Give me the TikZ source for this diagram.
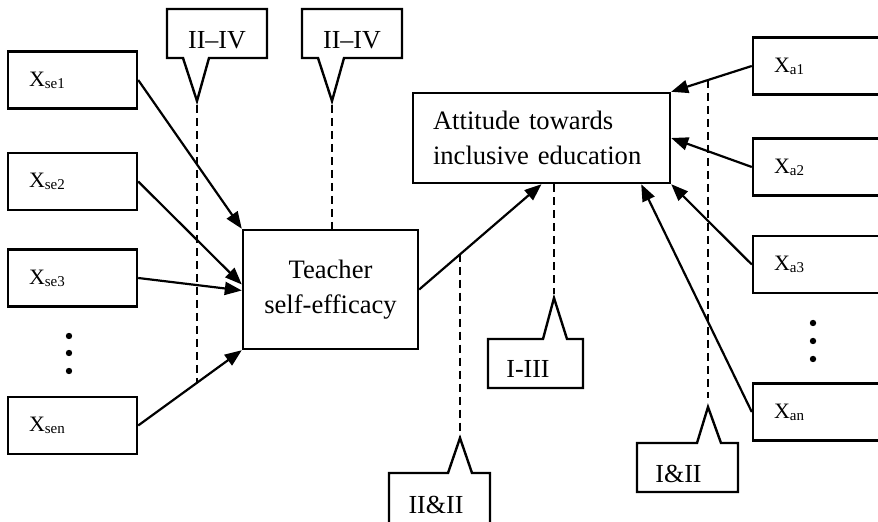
\documentclass[tikz,border=0pt]{standalone}
\usepackage{fontspec}
\setmainfont{Liberation Serif}
\usetikzlibrary{arrows.meta}

\newcommand{\lowidx}[1]{\raisebox{-1pt}{\fontsize{7.5}{8}\selectfont #1}}

\tikzset{
  varbox/.style={draw, line width=1.2pt, minimum height=28.5pt, inner xsep=10.5pt,
    align=left, font=\fontsize{11}{12}\selectfont},
  leftbox/.style={varbox, text width=43.5pt},
  rightbox/.style={varbox, text width=49pt},
  mainbox/.style={draw, line width=1.2pt, font=\fontsize{13.3}{17.5}\selectfont},
  arr/.style={line width=1.1pt, -{Triangle[length=8.5pt,width=6.5pt]}},
  guide/.style={line width=1.1pt, dash pattern=on 4pt off 2.5pt},
  tag/.style={line width=1.2pt, line join=miter},
  tagtext/.style={inner sep=0pt, font=\fontsize{13}{15}\selectfont}
}

\begin{document}
\begin{tikzpicture}[x=0.5pt, y=-0.5pt]
    \clip (0,0) rectangle (878,522);

    % indicators of self-efficacy
    \node (se1) [leftbox] at (72.5,80) {X\lowidx{se1}};
    \node (se2) [leftbox] at (72.5,181.5) {X\lowidx{se2}};
    \node (se3) [leftbox] at (72.5,278) {X\lowidx{se3}};
    \node (sen) [leftbox] at (72.5,425.5) {X\lowidx{sen}};
    \foreach \y in {336,353,371}
      \fill (69,\y) circle (1.6pt);

    % latent variables
    \node (tse) [mainbox, minimum width=87.5pt, minimum height=59.5pt, align=center]
      at (330.5,289.5) {Teacher\\self-efficacy};
    \node (att) [mainbox, minimum width=128.5pt, minimum height=45pt, inner xsep=10pt,
      text width=108.5pt, align=left] at (541.5,138) {Attitude towards\\inclusive education};

    % indicators of attitude
    \node (a1) [rightbox] at (823,66) {X\lowidx{a1}};
    \node (a2) [rightbox] at (823,167) {X\lowidx{a2}};
    \node (a3) [rightbox] at (823,264.5) {X\lowidx{a3}};
    \node (an) [rightbox] at (823,412) {X\lowidx{an}};
    \foreach \y in {323,341,359}
      \fill (813,\y) circle (1.6pt);

    % paths
    \draw [arr] (se1.east) -- (tse.north west);
    \draw [arr] (se2.east) -- ([yshift=2.5pt]tse.west);
    \draw [arr] (se3.east) -- ([yshift=-0.5pt]tse.west);
    \draw [arr] (sen.east) -- coordinate[pos=0.566] (xn) (tse.south west);
    \draw [arr] (tse.east) -- coordinate[pos=0.34] (xt) (att.south);
    \draw [arr] (a1.west) -- coordinate[pos=0.54] (xa) (att.north east);
    \draw [arr] (a2.west) -- (att.east);
    \draw [arr] (a3.west) -- (att.south east);
    \draw [arr] (an.west) -- ([xshift=-15pt]att.south east);

    % callouts
    \draw [tag] (167,9) -- (267,9) -- (267,58) -- (209,58) -- (197,101) -- (183,58) -- (167,58) -- cycle;
    \coordinate (t1) at (197,101);
    \node (l1) [tagtext] at (217,40) {II–IV};

    \draw [tag] (302,9) -- (402,9) -- (402,58) -- (344,58) -- (332,101) -- (318,58) -- (302,58) -- cycle;
    \coordinate (t2) at (332,101);
    \node (l2) [tagtext] at (352,40) {II–IV};

    \draw [tag] (488,339) -- (543,339) -- (554,298) -- (567,339) -- (583,339) -- (583,388) -- (488,388) -- cycle;
    \coordinate (t3) at (554,298);
    \node (l3) [tagtext] at (528,369) {I-III};

    \draw [tag] (389,473) -- (448,473) -- (460,438) -- (472,473) -- (490,473) -- (490,540) -- (389,540) -- cycle;
    \coordinate (t4) at (460,438);
    \node (l4) [tagtext] at (436,505) {II\&II};

    \draw [tag] (637,443) -- (697,443) -- (708,407) -- (721,443) -- (738,443) -- (738,492) -- (637,492) -- cycle;
    \coordinate (t5) at (708,407);
    \node (l5) [tagtext] at (678.5,473.5) {I\&II};

    % dashed guides
    \draw [guide] ([yshift=-2pt]t1) -- (t1 |- xn);
    \draw [guide] ([yshift=-2pt]t2) -- (t2 |- tse.north);
    \draw [guide] (t3 |- att.south) -- ([yshift=2pt]t3);
    \draw [guide] (t4 |- xt) -- ([yshift=1pt]t4);
    \draw [guide] (t5 |- xa) -- ([yshift=4.5pt]t5);
  \end{tikzpicture}
\end{document}
